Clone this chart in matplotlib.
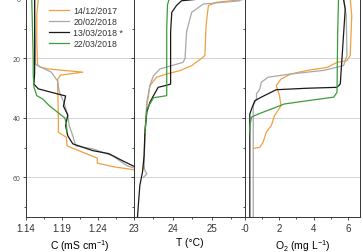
import numpy as np
import matplotlib
matplotlib.use("Agg")
import matplotlib.pyplot as plt

plt.rcParams['font.family'] = ['Liberation Sans', 'DejaVu Sans']
plt.rcParams['mathtext.fontset'] = 'custom'
plt.rcParams['mathtext.rm'] = 'Liberation Sans'
plt.rcParams['mathtext.it'] = 'Liberation Sans:italic'

labels = ["14/12/2017", "20/02/2018", "13/03/2018 *", "22/03/2018"]
colors = ["#f0a040", "#a8a8a8", "#1a1a1a", "#3c9c3c"]

# conductivity (mS/cm) vs depth (m)
c_depth = [
    [0, 0.5, 5, 15, 22, 22.8, 23.5, 24.6, 25.6, 27, 30, 40, 44.8, 46.5, 49.4, 53.5, 55.2, 56.5, 57.2, 57.6],
    [0, 5, 15, 22, 24.6, 27.6, 31, 35, 39, 42.6, 46, 49.4, 50.4, 52.7, 56, 57],
    [0, 5, 15, 25, 28.6, 30.2, 32, 32.6, 36, 39, 42.6, 46, 48.7, 51, 52, 54.5, 56.5],
    [0, 10, 20, 25, 29.6, 32.5, 33.6, 36, 38.7, 40, 42, 44.8],
]
c_val = [
    [1.156, 1.157, 1.155, 1.155, 1.156, 1.159, 1.170, 1.219, 1.188, 1.184, 1.184, 1.185, 1.185, 1.196, 1.197, 1.239, 1.239, 1.264, 1.284, 1.292],
    [1.152, 1.152, 1.153, 1.153, 1.175, 1.184, 1.186, 1.193, 1.198, 1.200, 1.205, 1.209, 1.233, 1.260, 1.280, 1.292],
    [1.152, 1.152, 1.152, 1.152, 1.151, 1.157, 1.185, 1.195, 1.192, 1.198, 1.195, 1.198, 1.205, 1.233, 1.255, 1.275, 1.292],
    [1.148, 1.149, 1.150, 1.150, 1.151, 1.155, 1.163, 1.173, 1.187, 1.194, 1.196, 1.197],
]

# temperature (degC) vs depth (m)
t_depth = [
    [0, 0.2, 1.1, 2.2, 9, 19, 20, 22.4, 24.1, 25.2, 26.3, 29.1, 35.9, 45, 53.7, 57.1],
    [0, 0.6, 1.7, 4.5, 11, 20, 21.3, 23.5, 25.8, 29, 34.7, 45, 56, 57.7, 58.8, 60],
    [0, 0.6, 2.2, 4.5, 11, 28.6, 29.0, 29.7, 32.5, 34.7, 38, 45, 52.6, 58, 62.7, 69.5, 73.3],
    [0, 2, 10, 20, 32.5, 33.2, 37, 45],
]
t_val = [
    [25.80, 25.80, 25.12, 24.91, 24.85, 24.82, 24.73, 24.48, 24.18, 23.84, 23.58, 23.41, 23.33, 23.28, 23.26, 23.24],
    [25.72, 25.72, 24.78, 24.48, 24.35, 24.31, 24.26, 23.67, 23.50, 23.41, 23.33, 23.28, 23.26, 23.28, 23.33, 23.24],
    [24.69, 24.22, 24.09, 23.97, 23.94, 23.94, 23.84, 23.62, 23.50, 23.41, 23.33, 23.28, 23.26, 23.22, 23.15, 23.11, 23.09],
    [23.90, 23.86, 23.84, 23.84, 23.84, 23.50, 23.33, 23.28],
]

# dissolved oxygen (mg/L) vs depth (m)
o_depth = [
    [0, 5.6, 19, 20.7, 21.3, 23, 24, 25.2, 26.9, 29.1, 32.5, 35.9, 39.2, 42.6, 44.8, 48.2, 49.9, 50.2],
    [0, 5.6, 19, 22.4, 24, 25.2, 26.3, 28, 30.3, 31.9, 33.6, 35.9, 73.3],
    [0, 3.4, 20, 28.6, 29.7, 30, 30.5, 33, 34.2, 37, 38.7, 73.3],
    [0, 11, 31.4, 33, 34.2, 35.3, 37, 38.7, 39.7, 42.6, 45],
]
o_val = [
    [6.13, 6.22, 6.13, 5.94, 5.36, 4.79, 3.64, 2.68, 2.10, 1.82, 2.01, 2.10, 1.72, 1.53, 1.24, 1.05, 0.86, 0.53],
    [5.74, 5.90, 5.94, 5.74, 4.59, 2.68, 1.34, 0.95, 0.86, 0.67, 0.67, 0.48, 0.48],
    [5.74, 5.84, 5.65, 5.55, 5.36, 3.64, 1.82, 0.95, 0.57, 0.38, 0.28, 0.28],
    [5.45, 5.40, 5.36, 5.17, 3.64, 2.29, 1.53, 0.76, 0.38, 0.28, 0.28],
]

fig = plt.figure(figsize=(3.63, 2.53), dpi=100)
gs = fig.add_gridspec(1, 3, width_ratios=[108, 111, 115], wspace=0,
                      left=26/363, right=360/363, bottom=35/253, top=1.0)
axes = [fig.add_subplot(gs[0, i]) for i in range(3)]

panels = [(c_depth, c_val), (t_depth, t_val), (o_depth, o_val)]
for ax, (dd, vv) in zip(axes, panels):
    for d, v, col, lab in zip(dd, vv, colors, labels):
        ax.plot(v, d, color=col, lw=0.9, label=lab)
    ax.set_ylim(73.3, 0)
    ax.set_yticks([0, 20, 40, 60])
    ax.set_yticks([10, 30, 50, 70], minor=True)
    for g in [20, 40, 60]:
        ax.axhline(g, color="#cccccc", lw=0.6, zorder=0)
    ax.tick_params(which='both', direction='out', width=0.6, color='#333333')
    ax.tick_params(which='major', length=2.5)
    ax.tick_params(which='minor', length=1.5)
    ax.tick_params(axis='x', labelsize=7, pad=2, labelcolor='#333333')
    ax.tick_params(axis='y', labelsize=5, pad=1.5, labelcolor='#555555')
    for s in ax.spines.values():
        s.set_linewidth(0.7)
        s.set_color('#333333')
    if ax is not axes[0]:
        ax.tick_params(axis='y', labelleft=False)

axes[0].set_xlim(1.14, 1.29)
axes[0].set_xticks([1.14, 1.19, 1.24])
axes[0].set_xticks([1.165, 1.215, 1.265, 1.29], minor=True)
axes[0].set_xticklabels(["1.14", "1.19", "1.24"])
axes[0].set_xlabel("C (mS cm$^{-1}$)", fontsize=7.5, labelpad=3)

axes[1].set_xlim(23, 25.85)
axes[1].set_xticks([23, 24, 25])
axes[1].set_xticks([23.5, 24.5, 25.5], minor=True)
axes[1].set_xticklabels(["23", "24", "25"])
axes[1].set_xlabel("T (°C)", fontsize=7.5, labelpad=3)

axes[2].set_xlim(0, 6.7)
axes[2].set_xticks([0, 2, 4, 6])
axes[2].set_xticks([1, 3, 5], minor=True)
axes[2].set_xticklabels(["-0", "2", "4", "6"])
axes[2].set_xlabel("O$_2$ (mg L$^{-1}$)", fontsize=7.5, labelpad=3)

axes[0].legend(loc='upper left', bbox_to_anchor=(0.18, 0.985), frameon=False,
               fontsize=6.3, handlelength=2.3, handletextpad=0.5,
               labelspacing=0.25, borderaxespad=0, labelcolor='#333333')

fig.savefig("out.png", dpi=100)
